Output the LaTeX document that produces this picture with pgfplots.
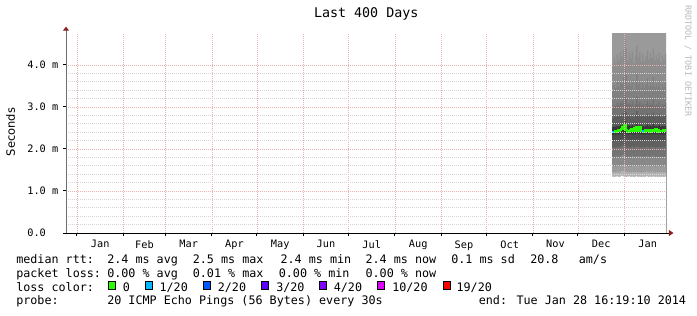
\documentclass[border=0pt]{standalone}
\usepackage{fontspec}
\usepackage{pgfplots}
\pgfplotsset{compat=1.18}
\usepackage{pgfplotstable}
\usetikzlibrary{arrows.meta}
\newfontfamily\monof{DejaVu Sans Mono}
\newfontfamily\sansf{DejaVu Sans}
\definecolor{gridred}{RGB}{238,178,178}
\definecolor{gridgray}{RGB}{214,214,214}
\definecolor{arrowred}{RGB}{140,30,30}
\definecolor{axisgray}{RGB}{110,110,110}
\definecolor{l0}{HTML}{26FF00}
\definecolor{l1}{HTML}{00B8FF}
\definecolor{l2}{HTML}{0059FF}
\definecolor{l3}{HTML}{5E00FF}
\definecolor{l4}{HTML}{7E00FF}
\definecolor{l10}{HTML}{DD00FF}
\definecolor{l19}{HTML}{FF0000}
\definecolor{s1}{HTML}{9A9A9A}
\definecolor{s2}{HTML}{8D8D8D}
\definecolor{s3}{HTML}{808080}
\definecolor{s4}{HTML}{727272}
\definecolor{s5}{HTML}{5C5C5C}
\definecolor{s6}{HTML}{393939}
\definecolor{s7}{HTML}{4C4C4C}
\definecolor{s8}{HTML}{606060}
\definecolor{s9}{HTML}{737373}
\definecolor{s10}{HTML}{888888}
\definecolor{s11}{HTML}{9C9C9C}
\definecolor{s12}{HTML}{B3B3B3}

\pgfplotstableread{
t a b c d e f g h i j k l m med bl
364 4.76 4.02 3.38 2.98 2.74 2.52 2.33 2.20 2.03 1.80 1.58 1.44 1.34 2.41 2.41
365 4.76 4.18 3.52 3.05 2.78 2.54 2.34 2.21 2.05 1.83 1.60 1.45 1.33 2.40 2.41
366 4.76 4.08 3.45 3.02 2.76 2.53 2.33 2.19 2.02 1.79 1.57 1.43 1.34 2.42 nan
367 4.76 4.25 3.60 3.10 2.80 2.55 2.35 2.22 2.06 1.84 1.61 1.46 1.35 2.41 nan
368 4.76 4.12 3.48 3.04 2.77 2.54 2.34 2.20 2.04 1.81 1.59 1.44 1.33 2.44 nan
369 4.76 4.30 3.62 3.12 2.82 2.56 2.35 2.22 2.05 1.82 1.60 1.45 1.34 2.45 nan
370 4.76 4.20 3.55 3.08 2.79 2.55 2.36 2.23 2.07 1.85 1.62 1.47 1.36 2.47 nan
371 4.76 4.35 3.70 3.15 2.85 2.60 2.38 2.24 2.08 1.86 1.63 1.47 1.35 2.52 nan
372 4.76 4.64 3.90 3.32 2.95 2.65 2.40 2.25 2.08 1.85 1.62 1.46 1.34 2.57 nan
373 4.76 4.40 3.75 3.20 2.88 2.60 2.36 2.22 2.05 1.82 1.60 1.45 1.33 2.45 nan
374 4.76 4.10 3.50 3.06 2.78 2.55 2.34 2.21 2.04 1.81 1.59 1.44 1.34 2.41 nan
375 4.76 4.28 3.58 3.10 2.80 2.56 2.35 2.22 2.05 1.83 1.61 1.45 1.35 2.43 nan
376 4.76 4.15 3.50 3.05 2.77 2.54 2.34 2.20 2.03 1.80 1.58 1.43 1.33 2.44 nan
377 4.76 4.32 3.65 3.14 2.83 2.57 2.36 2.22 2.06 1.84 1.61 1.46 1.34 2.47 nan
378 4.76 4.05 3.42 3.00 2.75 2.53 2.33 2.20 2.03 1.81 1.59 1.44 1.33 2.42 nan
379 4.76 4.22 3.58 3.08 2.80 2.56 2.35 2.21 2.05 1.82 1.60 1.45 1.34 2.50 nan
380 4.76 4.45 3.80 3.25 2.90 2.62 2.37 2.23 2.06 1.83 1.61 1.46 1.35 2.53 nan
381 4.76 4.18 3.52 3.06 2.78 2.55 2.34 2.21 2.04 1.81 1.59 1.44 1.33 2.44 nan
382 4.76 4.30 3.62 3.12 2.82 2.57 2.35 2.22 2.05 1.83 1.60 1.45 1.34 2.51 nan
383 4.76 4.10 3.46 3.03 2.77 2.54 2.34 2.20 2.03 1.80 1.58 1.43 1.33 2.42 nan
384 4.76 4.26 3.56 3.08 2.79 2.55 2.35 2.21 2.05 1.82 1.60 1.45 1.34 2.43 2.43
385 4.76 4.08 3.44 3.01 2.76 2.53 2.33 2.20 2.03 1.80 1.58 1.44 1.33 2.41 2.43
386 4.76 4.20 3.55 3.07 2.79 2.55 2.34 2.21 2.04 1.82 1.60 1.45 1.34 2.44 nan
387 4.76 4.34 3.68 3.14 2.84 2.58 2.36 2.22 2.06 1.83 1.61 1.46 1.35 2.42 nan
388 4.76 4.12 3.48 3.04 2.77 2.54 2.34 2.20 2.03 1.81 1.59 1.44 1.33 2.45 nan
389 4.76 4.28 3.60 3.10 2.81 2.56 2.35 2.21 2.05 1.82 1.60 1.45 1.34 2.41 nan
390 4.76 4.16 3.50 3.05 2.78 2.54 2.34 2.21 2.04 1.81 1.59 1.44 1.33 2.43 nan
391 4.76 4.38 3.72 3.18 2.86 2.59 2.36 2.22 2.06 1.84 1.61 1.46 1.35 2.46 nan
392 4.76 4.10 3.47 3.03 2.77 2.54 2.34 2.20 2.03 1.80 1.58 1.43 1.33 2.42 nan
393 4.76 4.24 3.56 3.08 2.79 2.55 2.35 2.21 2.05 1.82 1.60 1.45 1.34 2.48 nan
394 4.76 4.14 3.49 3.04 2.77 2.54 2.34 2.20 2.04 1.81 1.59 1.44 1.33 2.44 nan
395 4.76 4.30 3.63 3.12 2.82 2.57 2.35 2.22 2.05 1.83 1.60 1.45 1.34 2.41 nan
396 4.76 4.06 3.43 3.01 2.76 2.53 2.33 2.20 2.03 1.80 1.58 1.43 1.33 2.43 nan
397 4.76 4.22 3.55 3.07 2.79 2.55 2.34 2.21 2.04 1.82 1.60 1.45 1.34 2.42 nan
398 4.76 4.12 3.47 3.04 2.77 2.54 2.34 2.20 2.03 1.81 1.59 1.44 1.33 2.44 nan
399 4.76 4.26 3.58 3.09 2.80 2.55 2.35 2.21 2.05 1.82 1.60 1.45 1.34 2.42 nan
400 4.76 4.26 3.58 3.09 2.80 2.55 2.35 2.21 2.05 1.82 1.60 1.45 1.34 2.42 nan
}\smoke

\begin{document}
\begin{tikzpicture}[x=0.75pt,y=-0.75pt,
  lg/.style={anchor=base west, inner sep=0pt, font=\monof\fontsize{8.8}{10}\selectfont},
  bx/.style={draw=black, line width=0.6pt, minimum size=5.4pt, inner sep=0pt}]
\fill[white] (0,0) rectangle (697,315);
\path[use as bounding box] (0,0) rectangle (697,315);
\begin{axis}[
  at={(49.5pt,-174.75pt)}, anchor=south west,
  scale only axis, width=450pt, height=150pt,
  xmin=0, xmax=400, ymin=0, ymax=4.76,
  axis on top,
  axis x line=bottom, axis y line=left,
  x axis line style={draw=black, line width=0.75pt, shorten >=-5.6pt,
    -{Triangle[length=3.5pt,width=4.5pt,color=arrowred]}},
  y axis line style={draw=axisgray, line width=0.75pt, shorten >=-4.7pt,
    -{Triangle[length=3pt,width=4.5pt,color=arrowred]}},
  xtick={7.32,38.32,66.32,97.32,127.32,158.32,188.32,219.32,250.32,280.32,311.32,341.32,372.32},
  xticklabels={},
  extra x ticks={22.82,52.32,81.82,112.32,142.82,173.32,203.82,234.82,265.32,295.82,326.32,356.82,387.82},
  extra x tick labels={Jan,Feb,Mar,Apr,May,Jun,Jul,Aug,Sep,Oct,Nov,Dec,Jan},
  extra x tick style={grid=none, major tick length=0pt},
  xticklabel style={yshift=-2pt},
  ytick={0,1,2,3,4},
  yticklabels={0.0\hphantom{mm},1.0 m,2.0 m,3.0 m,4.0 m},
  minor y tick num=4,
  grid=both,
  major grid style={draw=gridred, line width=0.6pt, dash pattern=on 0.75pt off 0.75pt},
  minor grid style={draw=gridgray, line width=0.6pt, dash pattern=on 0.75pt off 0.75pt},
  tick align=outside,
  major tick length=2.25pt, minor tick length=0pt,
  tick style={draw=black, line width=0.75pt},
  ticklabel style={font=\monof\fontsize{7.7}{9}\selectfont},
  unbounded coords=jump,
]
\addplot[const plot, draw=none, fill=s1] table[x=t,y=a]{\smoke} \closedcycle;
\addplot[const plot, draw=none, fill=s2] table[x=t,y=b]{\smoke} \closedcycle;
\addplot[const plot, draw=none, fill=s3] table[x=t,y=c]{\smoke} \closedcycle;
\addplot[const plot, draw=none, fill=s4] table[x=t,y=d]{\smoke} \closedcycle;
\addplot[const plot, draw=none, fill=s5] table[x=t,y=e]{\smoke} \closedcycle;
\addplot[const plot, draw=none, fill=s6] table[x=t,y=f]{\smoke} \closedcycle;
\addplot[const plot, draw=none, fill=s7] table[x=t,y=g]{\smoke} \closedcycle;
\addplot[const plot, draw=none, fill=s8] table[x=t,y=h]{\smoke} \closedcycle;
\addplot[const plot, draw=none, fill=s9] table[x=t,y=i]{\smoke} \closedcycle;
\addplot[const plot, draw=none, fill=s10] table[x=t,y=j]{\smoke} \closedcycle;
\addplot[const plot, draw=none, fill=s11] table[x=t,y=k]{\smoke} \closedcycle;
\addplot[const plot, draw=none, fill=s12] table[x=t,y=l]{\smoke} \closedcycle;
\addplot[const plot, draw=none, fill=white] table[x=t,y=m]{\smoke} \closedcycle;
\addplot[const plot, draw=l0, line width=1.6pt] table[x=t,y=med]{\smoke};
\addplot[const plot, draw=l1, line width=1.6pt] table[x=t,y=bl]{\smoke};
\end{axis}

\node[anchor=base, inner sep=0pt, font=\monof\fontsize{10}{12}\selectfont] at (366.2,17.5) {Last 400 Days};
\node[rotate=90, inner sep=0pt, font=\sansf\fontsize{8.6}{10}\selectfont] at (10.5,132) {Seconds};
\node[rotate=-90, anchor=west, inner sep=0pt, text=gray!55, font=\monof\fontsize{6.3}{7}\selectfont] at (688,5) {RRDTOOL / TOBI OETIKER};

\node[lg] at (16,263.5) {median rtt:};
\node[lg] at (107,263.5) {2.4 ms avg};
\node[lg] at (192.6,263.5) {2.5 ms max};
\node[lg] at (280.3,263.5) {2.4 ms min};
\node[lg] at (365.3,263.5) {2.4 ms now};
\node[lg] at (451,263.5) {0.1 ms sd};
\node[lg] at (530,263.5) {20.8};
\node[lg] at (578.6,263.5) {am/s};

\node[lg] at (16,277) {packet loss:};
\node[lg] at (107,277) {0.00 \% avg};
\node[lg] at (192.6,277) {0.01 \% max};
\node[lg] at (278.6,277) {0.00 \% min};
\node[lg] at (365.3,277) {0.00 \% now};

\node[lg] at (16,291) {loss color:};
\node[bx, fill=l0] at (112.2,285.3) {};
\node[lg] at (122.6,291) {0};
\node[bx, fill=l1] at (149,285.3) {};
\node[lg] at (159.3,291) {1/20};
\node[bx, fill=l2] at (207.2,285.3) {};
\node[lg] at (217.6,291) {2/20};
\node[bx, fill=l3] at (265,285.3) {};
\node[lg] at (276,291) {3/20};
\node[bx, fill=l4] at (323.2,285.3) {};
\node[lg] at (333.6,291) {4/20};
\node[bx, fill=l10] at (381.2,285.3) {};
\node[lg] at (392,291) {10/20};
\node[bx, fill=l19] at (447.2,285.3) {};
\node[lg] at (456.3,291) {19/20};

\node[lg] at (16,304.7) {probe:};
\node[lg] at (107,304.7) {20 ICMP Echo Pings (56 Bytes) every 30s};
\node[lg] at (478.6,304.7) {end: Tue Jan 28 16:19:10 2014};
\end{tikzpicture}
\end{document}
